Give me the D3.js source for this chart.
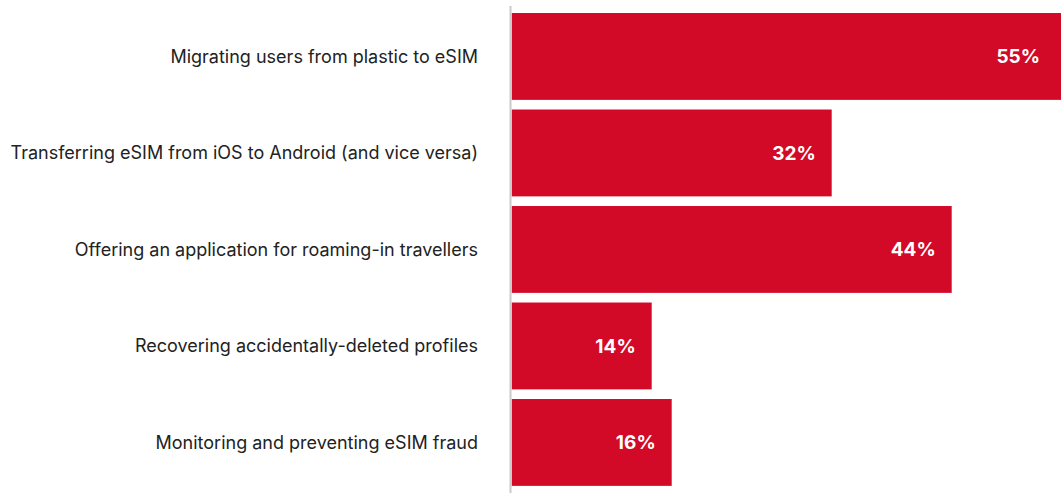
<!DOCTYPE html>
<html>
<head>
<meta charset="utf-8">
<script src="https://cdn.jsdelivr.net/npm/d3@7"></script>
<style>
  html, body { margin: 0; padding: 0; background: #fff; }
  svg { display: block; }
</style>
</head>
<body>
<svg id="chart" width="1061" height="493"></svg>
<script>
const categories = [
  "Migrating users from plastic to eSIM",
  "Transferring eSIM from iOS to Android (and vice versa)",
  "Offering an application for roaming-in travellers",
  "Recovering accidentally-deleted profiles",
  "Monitoring and preventing eSIM fraud"
];
const values = [55, 32, 44, 14, 16];

const svg = d3.select("#chart");
const W = 1061, H = 493;
const x0 = 511.7;

// 10 px per percentage point
const x = d3.scaleLinear().domain([0, 55]).range([x0, x0 + 550]);
const y = d3.scaleBand()
  .domain(categories)
  .range([8.2, 490.7])
  .paddingInner(0.1)
  .paddingOuter(0.05);

// bars
svg.append("g")
  .selectAll("rect")
  .data(values)
  .join("rect")
  .attr("x", x(0))
  .attr("y", (d, i) => y(categories[i]))
  .attr("width", d => x(d) - x(0))
  .attr("height", y.bandwidth())
  .attr("fill", "#D20A28");

// vertical baseline
svg.append("line")
  .attr("x1", 510.5).attr("x2", 510.5)
  .attr("y1", 6).attr("y2", H)
  .attr("stroke", "#c8cccb")
  .attr("stroke-width", 2);

// category labels
svg.append("g")
  .selectAll("text")
  .data(categories)
  .join("text")
  .attr("x", 478)
  .attr("y", d => y(d) + y.bandwidth() / 2)
  .attr("dy", "0.35em")
  .attr("text-anchor", "end")
  .attr("font-family", "Inter, sans-serif")
  .attr("font-size", 18)
  .attr("fill", "#222")
  .text(d => d);

// value labels, kept inside the visible area
svg.append("g")
  .selectAll("text")
  .data(values)
  .join("text")
  .attr("x", d => Math.min(x(d), W - 5) - 16)
  .attr("y", (d, i) => y(categories[i]) + y.bandwidth() / 2)
  .attr("dy", "0.37em")
  .attr("text-anchor", "end")
  .attr("font-family", "Inter, sans-serif")
  .attr("font-weight", 700)
  .attr("font-size", 19)
  .attr("fill", "#fff")
  .text(d => d + "%");
</script>
</body>
</html>
